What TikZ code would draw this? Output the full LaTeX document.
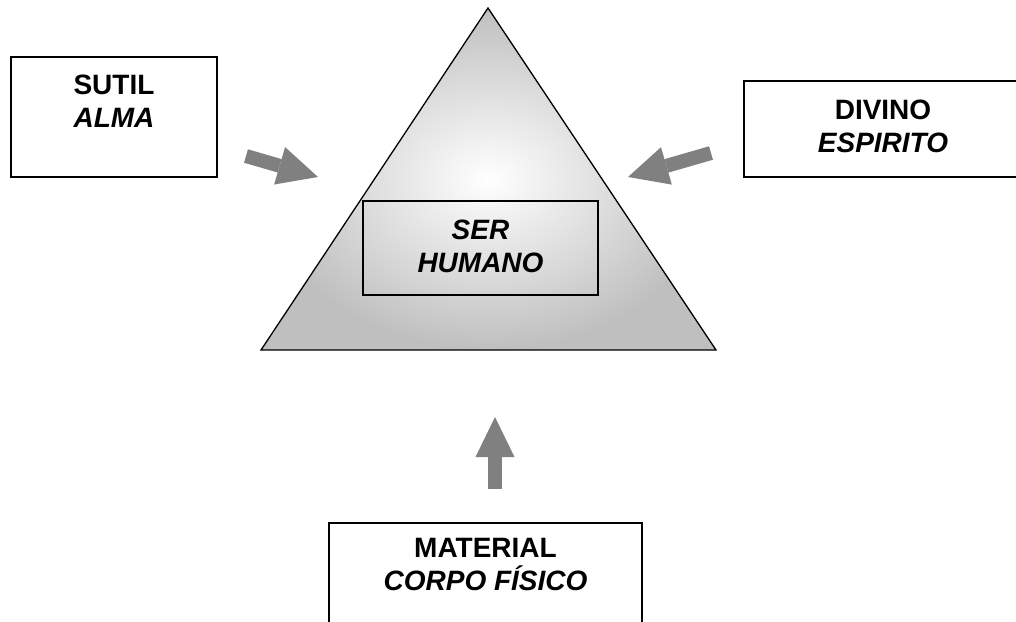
\documentclass[tikz,border=0pt]{standalone}
\usepackage{fontspec}
\setmainfont{Liberation Sans}
\usetikzlibrary{arrows.meta}
\definecolor{arrowgray}{HTML}{808080}
\definecolor{edgegray}{HTML}{BFBFBF}

\begin{document}
\begin{tikzpicture}[x=1pt,y=-1pt,
    box/.style={draw,line width=1.6pt,inner sep=0},
    lbl/.style={align=center,inner sep=0,font=\fontsize{28}{33}\selectfont\bfseries},
    blockarrow/.style={draw=arrowgray,line width=14pt,-{Triangle[width=39pt,length=40pt,line width=0pt]}}]
  \useasboundingbox (0,0) rectangle (1016,621);
  % pyramid
  \coordinate (apex) at (488,8);
  \coordinate (baseL) at (261,350);
  \coordinate (baseR) at (716,350);
  \shade[inner color=white,outer color=edgegray] (apex) -- (baseL) -- (baseR) -- cycle;
  \draw[line width=1.3pt] (apex) -- (baseL) -- (baseR) -- cycle;
  \node[box,line width=1.3pt,minimum width=235pt,minimum height=94pt] (serbox) at (480.5,248) {};
  \node[lbl] (ser) at (480.5,246.5) {\itshape SER\\\itshape HUMANO};
  % outer boxes
  \node[box,minimum width=206pt,minimum height=120pt] (sutilbox) at (114,117) {};
  \node[lbl] (sutil) at (114,101.5) {SUTIL\\\itshape ALMA};
  \node[box,minimum width=278pt,minimum height=96pt] (divinobox) at (883,129) {};
  \node[lbl] (divino) at (883,126) {DIVINO\\\itshape ESPIRITO};
  \node[box,minimum width=313pt,minimum height=117pt] (materialbox) at (485.5,581.5) {};
  \node[lbl] (material) at (485.5,564) {MATERIAL\\\itshape CORPO FÍSICO};
  % arrows
  \coordinate (sutiltail) at (246,156);    \coordinate (sutiltip) at (318,177);
  \coordinate (divinotail) at (711,153);   \coordinate (divinotip) at (628,177);
  \coordinate (materialtail) at (495,489); \coordinate (materialtip) at (495,417);
  \foreach \n in {sutil,divino,material}
    \draw[blockarrow] (\n tail) -- (\n tip);
\end{tikzpicture}
\end{document}
